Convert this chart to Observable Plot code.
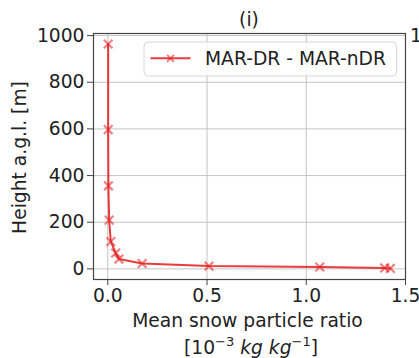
<!DOCTYPE html>
<html><head><meta charset="utf-8">
<script src="https://cdn.jsdelivr.net/npm/d3@7"></script>
<script src="https://cdn.jsdelivr.net/npm/@observablehq/plot@0.6"></script>
<style>
body{margin:0;background:#fff;}
#chart svg{font-family:"DejaVu Sans",sans-serif;overflow:visible;}
</style>
</head><body><div id="chart"></div>
<script>
// Data
const ratio    = [1.424, 1.395, 1.068, 0.51, 0.173, 0.056, 0.04, 0.015, 0.007, 0.003, 0.002, 0.002];
const height_m = [2, 4, 8, 12, 23, 42, 68, 117, 209, 356, 597, 964];
const seriesName = "MAR-DR - MAR-nDR";
const xTicks = [0, 0.5, 1.0, 1.5];
const yTicks = [0, 200, 400, 600, 800, 1000];
const title = "(i)";
const yLabel = "Height a.g.l. [m]";
const xLabel1 = "Mean snow particle ratio";

const data = ratio.map((r, i) => ({ratio: r, height: height_m[i]}));
const red = "#e41a1c";
const grid = "#c4c4c4";
const FS = 18.7;

const chart = Plot.plot({
  width: 419, height: 358,
  marginLeft: 93, marginRight: 14, marginTop: 33, marginBottom: 79,
  style: {fontFamily: "DejaVu Sans, sans-serif", fontSize: FS + "px", color: "#222", background: "#fff"},
  x: {domain: [-0.072, 1.5]},
  y: {domain: [-45.5, 1009]},
  marks: [
    Plot.gridX(xTicks, {stroke: grid, strokeOpacity: 1, strokeWidth: 1}),
    Plot.gridY(yTicks, {stroke: grid, strokeOpacity: 1, strokeWidth: 1}),
    Plot.frame({stroke: "#444", strokeWidth: 1.2}),
    Plot.axisX({ticks: xTicks, tickFormat: d3.format(".1f"), tickSize: 6, tickPadding: 3, label: null, stroke: "#444"}),
    Plot.axisY({ticks: yTicks, tickFormat: d3.format("d"), tickSize: 6, tickPadding: 3, label: null, stroke: "#444"}),
    Plot.line(data, {x: "ratio", y: "height", stroke: red, strokeOpacity: 0.85, strokeWidth: 2}),
    Plot.dot(data, {x: "ratio", y: "height", symbol: "times", r: 4, stroke: red, strokeOpacity: 0.55, strokeWidth: 2.2})
  ]
});
document.getElementById("chart").appendChild(chart);

const svg = d3.select(chart);
const txt = (x, y, s, anchor) => svg.append("text")
  .attr("x", x).attr("y", y).attr("text-anchor", anchor)
  .attr("font-size", FS).attr("fill", "#222").text(s);

// Title
txt(249, 25.5, title, "middle");
// Y label
svg.append("text")
  .attr("transform", "translate(25.5,157.5) rotate(-90)")
  .attr("text-anchor", "middle").attr("font-size", FS).attr("fill", "#222")
  .text(yLabel);
// X label line 1
txt(247.5, 326.8, xLabel1, "middle");
// X label line 2 with superscripts and italic units
const t2 = svg.append("text")
  .attr("x", 251).attr("y", 353.5).attr("text-anchor", "middle")
  .attr("font-size", FS).attr("fill", "#222");
t2.append("tspan").text("[10");
t2.append("tspan").attr("dy", -7.5).attr("font-size", 13).text("\u22123");
t2.append("tspan").attr("dy", 7.5).attr("font-style", "italic").text(" kg kg");
t2.append("tspan").attr("dy", -7.5).attr("font-size", 13).text("\u22121");
t2.append("tspan").attr("dy", 7.5).text("]");

// Legend
const lg = svg.append("g");
lg.append("rect").attr("x", 144).attr("y", 42).attr("width", 252.5).attr("height", 34)
  .attr("rx", 4).attr("fill", "#fff").attr("fill-opacity", 0.8).attr("stroke", "#d6d6d6");
lg.append("line").attr("x1", 150.5).attr("x2", 190.5).attr("y1", 58.3).attr("y2", 58.3)
  .attr("stroke", red).attr("stroke-opacity", 0.85).attr("stroke-width", 2);
lg.append("path").attr("d", d3.symbol(d3.symbolTimes, Math.PI * 3.2 * 3.2)())
  .attr("transform", "translate(170.5,58.3)")
  .attr("fill", "none").attr("stroke", red).attr("stroke-opacity", 0.55).attr("stroke-width", 2);
lg.append("text").attr("x", 205).attr("y", 65).attr("text-anchor", "start")
  .attr("font-size", FS).attr("fill", "#222").text(seriesName);

// Tick label of the neighbouring panel, cut by the picture edge as in the reference
txt(410, 42, "1", "start");
</script>
</body></html>
